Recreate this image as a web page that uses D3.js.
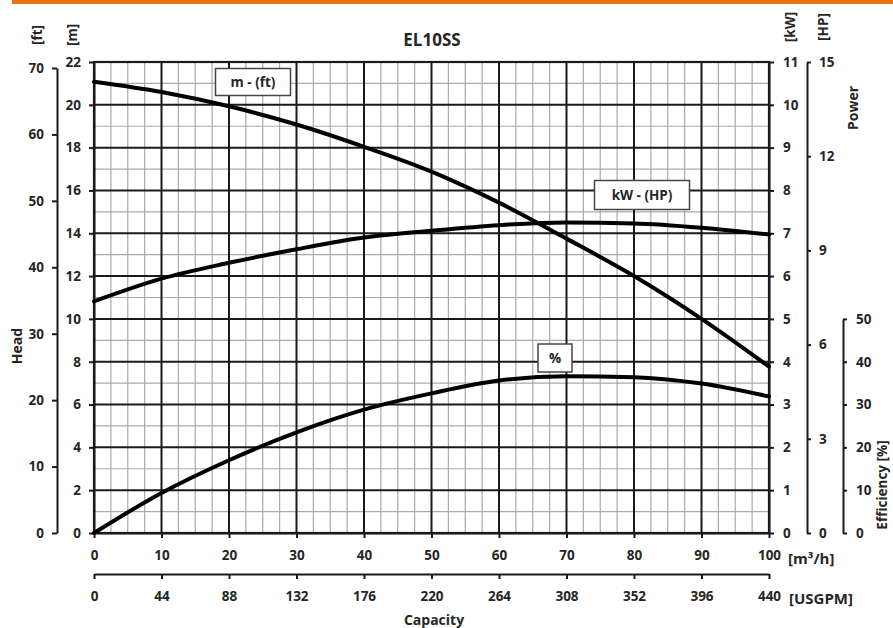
<!DOCTYPE html>
<html><head><meta charset="utf-8">
<script src="https://cdn.jsdelivr.net/npm/d3@7"></script>
<style>
html,body{margin:0;padding:0;background:#fff;}
svg text{font-family:"Open Sans",sans-serif;font-weight:700;fill:#262626;}
</style></head>
<body><svg id="c" width="893" height="628"></svg>
<script>
const title = "EL10SS";
const capacity = [0,10,20,30,40,50,60,70,80,90,100];
const usgpm = [0,44,88,132,176,220,264,308,352,396,440];
const headM = [21.08,20.6,19.93,19.08,18.04,16.88,15.43,13.75,12.0,10.0,7.77];
const powerKW = [5.41,5.94,6.31,6.625,6.90,7.06,7.19,7.25,7.23,7.13,6.97];
const effPct = [0,9.35,17.0,23.5,28.8,32.6,35.6,36.6,36.4,34.9,31.9];
const mTicks = [0,2,4,6,8,10,12,14,16,18,20,22];
const ftTicks = [0,10,20,30,40,50,60,70];
const kwTicks = [0,1,2,3,4,5,6,7,8,9,10,11];
const hpTicks = [0,3,6,9,12,15];
const effTicks = [0,10,20,30,40,50];

const svg = d3.select("#c");
const L=94,R=769,T=62,B=533;
const x = d3.scaleLinear([0,100],[L,R]);
const yM = d3.scaleLinear([0,22],[B,T]);
const yKW = d3.scaleLinear([0,11],[B,T]);
const yHP = d3.scaleLinear([0,15],[B,T]);
const yFt = d3.scaleLinear([0,70],[B,68]);
const yEff = d3.scaleLinear([0,50],[B,yM(10)]);

svg.append("rect").attr("x",12).attr("y",0).attr("width",881).attr("height",4).attr("fill","#e8750f");

// grid
const g = svg.append("g");
d3.range(0,100.01,2.5).forEach(v=>{ if(v%10!==0) g.append("line").attr("x1",x(v)).attr("x2",x(v)).attr("y1",T).attr("y2",B).attr("stroke","#aaaaaa").attr("stroke-width",1.2);});
d3.range(1,22,2).forEach(v=>{ g.append("line").attr("y1",yM(v)).attr("y2",yM(v)).attr("x1",L).attr("x2",R).attr("stroke","#aaaaaa").attr("stroke-width",1.2);});
capacity.forEach(v=>{ g.append("line").attr("x1",x(v)).attr("x2",x(v)).attr("y1",T).attr("y2",B).attr("stroke","#1a1a1a").attr("stroke-width",2);});
mTicks.forEach(v=>{ g.append("line").attr("y1",yM(v)).attr("y2",yM(v)).attr("x1",L).attr("x2",R).attr("stroke","#1a1a1a").attr("stroke-width",2);});

function styleAxis(sel){
  sel.select(".domain").attr("stroke","#1a1a1a").attr("stroke-width",2);
  sel.selectAll(".tick line").attr("stroke","#1a1a1a").attr("stroke-width",2);
  sel.selectAll(".tick text").attr("font-size",13.5).attr("fill","#262626").style("font-family","Open Sans").style("font-weight",700);
}
// left m axis
svg.append("g").attr("transform",`translate(${L},0)`)
  .call(d3.axisLeft(yM).tickValues(mTicks).tickSize(5).tickSizeOuter(0).tickPadding(8)).call(styleAxis);
// ft axis
svg.append("g").attr("transform",`translate(57,0)`)
  .call(d3.axisLeft(yFt).tickValues(ftTicks).tickSize(5).tickSizeOuter(0).tickPadding(8)).call(styleAxis);
// kW axis
svg.append("g").attr("transform",`translate(${R},0)`)
  .call(d3.axisRight(yKW).tickValues(kwTicks).tickSize(5).tickSizeOuter(0).tickPadding(9)).call(styleAxis);
// HP axis
svg.append("g").attr("transform",`translate(807,0)`)
  .call(d3.axisRight(yHP).tickValues(hpTicks).tickSize(4).tickSizeOuter(0).tickPadding(8)).call(styleAxis);
// Eff axis
svg.append("g").attr("transform",`translate(843,0)`)
  .call(d3.axisRight(yEff).tickValues(effTicks).tickSize(4).tickSizeOuter(0).tickPadding(9)).call(styleAxis);
// bottom m3/h axis
svg.append("g").attr("transform",`translate(0,${B})`)
  .call(d3.axisBottom(x).tickValues(capacity).tickSize(5).tickSizeOuter(0).tickPadding(12)).call(styleAxis);
// USGPM axis
const xU = d3.scaleLinear([0,440],[L,R]);
svg.append("g").attr("transform",`translate(0,574)`)
  .call(d3.axisBottom(xU).tickValues(usgpm).tickSize(5).tickSizeOuter(0).tickPadding(12)).call(styleAxis);

// plot border
svg.append("rect").attr("x",L).attr("y",T).attr("width",R-L).attr("height",B-T).attr("fill","none").attr("stroke","#1a1a1a").attr("stroke-width",2.2);

// curves
const line = (ys)=>d3.line().curve(d3.curveMonotoneX).x((d,i)=>x(capacity[i])).y((d)=>ys(d));
const cg = svg.append("g").attr("fill","none").attr("stroke","#000").attr("stroke-width",4).attr("stroke-linecap","round");
cg.append("path").attr("d",line(yM)(headM));
cg.append("path").attr("d",line(yKW)(powerKW));
cg.append("path").attr("d",line(yEff)(effPct));

// label boxes
function box(cx,cy,w,h,txt){
  svg.append("rect").attr("x",cx-w/2).attr("y",cy-h/2).attr("width",w).attr("height",h).attr("fill","#fff").attr("stroke","#444").attr("stroke-width",1.5);
  svg.append("text").attr("x",cx).attr("y",cy).attr("text-anchor","middle").attr("dominant-baseline","central").attr("font-size",13.5).text(txt);
}
box(253,82,75,27,"m - (ft)");
box(642,195,95,29,"kW - (HP)");
box(555,358,34,28,"%");

// titles
svg.append("text").attr("x",432).attr("y",39).attr("text-anchor","middle").attr("dominant-baseline","central").attr("font-size",17).text(title);
function vtext(cx,cy,txt,fs){
  svg.append("text").attr("transform",`translate(${cx},${cy}) rotate(-90)`).attr("text-anchor","middle").attr("dominant-baseline","central").attr("font-size",fs).text(txt);
}
vtext(37,35,"[ft]",13.5); vtext(72,35,"[m]",13.5);
vtext(790,27,"[kW]",13.5); vtext(823,27,"[HP]",13.5);
vtext(852,108,"Power",14);
vtext(882,485,"Efficiency [%]",13.5);
vtext(16,346,"Head",14);
svg.append("text").attr("x",788).attr("y",558).attr("dominant-baseline","central").attr("font-size",15).text("[m³/h]");
svg.append("text").attr("x",789).attr("y",598).attr("dominant-baseline","central").attr("font-size",15).text("[USGPM]");
svg.append("text").attr("x",434).attr("y",619).attr("text-anchor","middle").attr("dominant-baseline","central").attr("font-size",14).text("Capacity");
</script></body></html>
